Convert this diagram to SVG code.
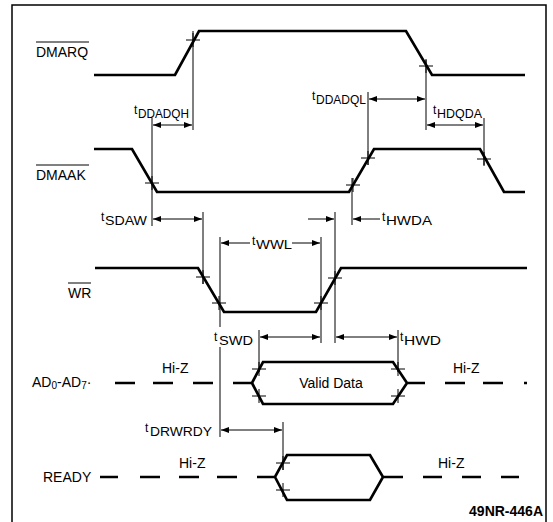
<svg xmlns="http://www.w3.org/2000/svg" width="553" height="522" viewBox="0 0 553 522">
<style>
.sig{stroke:#000;stroke-width:2.7;fill:none;stroke-linejoin:miter}
.g{stroke:#000;stroke-width:1;fill:none}
.d{stroke:#000;stroke-width:1;fill:none}
.a2{marker-start:url(#ah);marker-end:url(#ah)}
.a1{marker-end:url(#ah)}
text{font-family:"Liberation Sans",Arial,sans-serif;font-size:14px;fill:#000}
.tl{font-size:13px}
.ts{font-size:12px}
</style>
<defs>
<marker id="ah" markerUnits="userSpaceOnUse" markerWidth="8" markerHeight="6" refX="8" refY="3" orient="auto-start-reverse">
<path d="M0,0 L8,3 L0,6 z" fill="#000"/>
</marker>
<path id="cr" d="M-7,0 H7 M0,-7 V7" stroke="#000" stroke-width="1"/>
</defs>
<rect x="12" y="5" width="534" height="540" fill="#fff" stroke="#000" stroke-width="1.5"/>

<g id="DMARQ">
<text x="36" y="57">DMARQ</text>
<line class="g" x1="36" y1="42" x2="89" y2="42"/>
<path class="sig" d="M94,75 L175,75 L199,31 L406,31 L432,75 L525,75"/>
</g>

<g id="DMAAK">
<text x="36" y="180">DMAAK</text>
<line class="g" x1="36" y1="165" x2="89" y2="165"/>
<path class="sig" d="M94,149 L132,149 L157,192 L349,192 L374,149 L480,149 L504,192 L525,192"/>
</g>

<g id="WR">
<text x="68" y="298">WR</text>
<line class="g" x1="68" y1="283" x2="91" y2="283"/>
<path class="sig" d="M95,268 L198,268 L224,312 L316,312 L341,268 L527,268"/>
</g>

<g id="AD">
<text x="32" y="387">AD<tspan font-size="10" dy="2">0</tspan><tspan dy="-2">-AD</tspan><tspan font-size="10" dy="2">7</tspan><tspan dy="-2">·</tspan></text>
<path class="sig" d="M115,383 H135 M153,383 H173 M193,383 H213 M233,383 H252 L263,362 H393 L407,383 L393,404 H263 L252,383 M407,383 H425 M445,383 H465 M483,383 H503 M524,383 H527"/>
<text x="162" y="373">Hi-Z</text>
<text x="453" y="373">Hi-Z</text>
<text x="331" y="388" text-anchor="middle">Valid Data</text>
</g>

<g id="READY">
<text x="43" y="482">READY</text>
<path class="sig" d="M100,477 H118 M140,477 H160 M179,477 H199 M217,477 H237 M257,477 H275 L287,455 H370 L383,477 L370,500 H287 L275,477 M383,477 H403 M423,477 H442 M462,477 H481 M501,477 H519"/>
<text x="179" y="468">Hi-Z</text>
<text x="438" y="468">Hi-Z</text>
</g>

<g id="connectors">
<path class="g" d="M193,31 V130 M426,60 V130 M152,118 V226 M368,92 V165 M484,118 V165 M352,178 V225 M203,212 V284 M335,212 V343 M220,237 V327 M220,347 V437 M321,237 V343 M259,330 V372 M398,330 V372 M283,422 V470"/>
<use href="#cr" x="193" y="40"/>
<use href="#cr" x="426" y="66"/>
<use href="#cr" x="152" y="183"/>
<use href="#cr" x="353" y="185"/>
<use href="#cr" x="368" y="158"/>
<use href="#cr" x="484" y="159"/>
<use href="#cr" x="203" y="277"/>
<use href="#cr" x="219" y="303"/>
<use href="#cr" x="321" y="303"/>
<use href="#cr" x="335" y="278"/>
<use href="#cr" x="259" y="369"/>
<use href="#cr" x="259" y="396"/>
<use href="#cr" x="398" y="369"/>
<use href="#cr" x="398" y="396"/>
<use href="#cr" x="283" y="463"/>
<use href="#cr" x="283" y="490"/>

<line class="d a2" x1="153" y1="125" x2="192" y2="125"/>
<line class="d a2" x1="369" y1="99" x2="425" y2="99"/>
<line class="d a2" x1="427" y1="125" x2="483" y2="125"/>
<line class="d a2" x1="153" y1="219" x2="202" y2="219"/>
<line class="d a1" x1="308" y1="219" x2="334" y2="219"/>
<line class="d a1" x1="380" y1="219" x2="353" y2="219"/>
<line class="d a1" x1="250" y1="243" x2="221" y2="243"/>
<line class="d a1" x1="292" y1="243" x2="320" y2="243"/>
<line class="d a2" x1="260" y1="337" x2="320" y2="337"/>
<line class="d a2" x1="336" y1="337" x2="397" y2="337"/>
<line class="d a2" x1="221" y1="430" x2="282" y2="430"/>
</g>

<g id="timing-labels">
<text class="ts" x="134" y="114">t</text><text class="tl" x="138" y="118" textLength="51" lengthAdjust="spacingAndGlyphs">DDADQH</text>
<text class="ts" x="312" y="100">t</text><text class="tl" x="316" y="104" textLength="50" lengthAdjust="spacingAndGlyphs">DDADQL</text>
<text class="ts" x="433" y="114">t</text><text class="tl" x="437" y="118" textLength="45" lengthAdjust="spacingAndGlyphs">HDQDA</text>
<text class="ts" x="101" y="221">t</text><text class="tl" x="105" y="225" textLength="42" lengthAdjust="spacingAndGlyphs">SDAW</text>
<text class="ts" x="382" y="221">t</text><text class="tl" x="386" y="225" textLength="46" lengthAdjust="spacingAndGlyphs">HWDA</text>
<text class="ts" x="252" y="245">t</text><text class="tl" x="256" y="249" textLength="36" lengthAdjust="spacingAndGlyphs">WWL</text>
<text class="ts" x="214" y="341">t</text><text class="tl" x="219" y="345" textLength="34" lengthAdjust="spacingAndGlyphs">SWD</text>
<text class="ts" x="400" y="341">t</text><text class="tl" x="404" y="345" textLength="37" lengthAdjust="spacingAndGlyphs">HWD</text>
<text class="ts" x="145" y="432">t</text><text class="tl" x="150" y="436" textLength="62" lengthAdjust="spacingAndGlyphs">DRWRDY</text>
</g>

<text x="543" y="516" text-anchor="end" font-size="9" font-weight="bold">49NR-446A</text>
</svg>
